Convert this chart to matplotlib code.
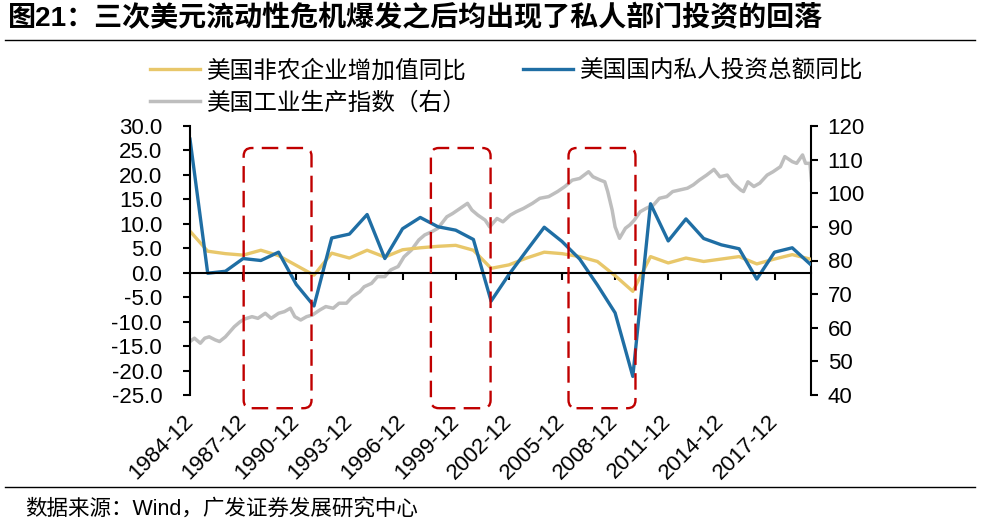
import matplotlib
matplotlib.use('Agg')
import matplotlib.pyplot as plt
from matplotlib.patches import FancyBboxPatch
from matplotlib.lines import Line2D

plt.rcParams['font.family'] = ['Liberation Sans', 'Noto Sans CJK SC', 'DejaVu Sans']
plt.rcParams['axes.unicode_minus'] = False

# 연간 데이터 (1984-12 ~ 2019-12)
years = list(range(1984, 2020))
value_added = [8.5, 4.4, 3.9, 3.6, 4.6, 3.5, 1.5, -0.5, 4.0, 3.0,
               4.6, 3.2, 4.7, 5.1, 5.4, 5.6, 4.6, 0.9, 1.6, 3.0,
               4.2, 3.9, 3.3, 2.3, -0.6, -3.8, 3.3, 2.0, 3.0, 2.3,
               2.8, 3.3, 1.8, 2.8, 3.7, 2.8]
investment = [27.3, -0.1, 0.3, 2.9, 2.5, 4.2, -2.4, -6.8, 7.1, 7.9,
              11.9, 2.9, 9.0, 11.3, 9.4, 8.7, 6.8, -5.8, -0.4, 4.5,
              9.3, 6.4, 2.8, -2.5, -8.2, -21.2, 14.1, 6.5, 11.0, 7.0,
              5.7, 4.9, -1.3, 4.2, 5.1, 1.8]

# 공업생산지수 (월별, 우측 축)
ip_months = ["1984-12", "1985-03", "1985-07", "1985-10", "1986-01", "1986-05", "1986-08", "1986-12",
             "1987-03", "1987-06", "1987-10", "1988-01", "1988-06", "1988-10", "1989-03", "1989-07",
             "1989-12", "1990-04", "1990-08", "1990-11", "1991-03", "1991-07", "1991-11", "1992-04",
             "1992-08", "1993-01", "1993-05", "1993-10", "1994-02", "1994-07", "1994-10", "1995-03",
             "1995-07", "1995-12", "1996-04", "1996-09", "1997-01", "1997-06", "1997-11", "1998-03",
             "1998-08", "1998-12", "1999-06", "1999-10", "2000-03", "2000-08", "2000-11", "2001-03",
             "2001-08", "2001-11", "2002-04", "2002-08", "2003-01", "2003-05", "2003-10", "2004-04",
             "2004-09", "2005-03", "2005-09", "2006-02", "2006-07", "2006-12", "2007-06", "2007-09",
             "2008-02", "2008-05", "2008-07", "2008-10", "2008-12", "2009-03", "2009-07", "2009-10",
             "2010-01", "2010-05", "2010-09", "2011-02", "2011-06", "2011-11", "2012-03", "2012-08",
             "2013-01", "2013-05", "2013-09", "2014-02", "2014-07", "2014-11", "2015-04", "2015-08",
             "2016-01", "2016-03", "2016-06", "2016-10", "2017-02", "2017-07", "2017-11", "2018-04",
             "2018-07", "2018-12", "2019-03", "2019-07", "2019-09", "2019-12", "2020-01"]
ip_index = [55.9, 56.9, 55.4, 56.9, 57.3, 56.4, 55.9, 57.3,
            58.8, 60.3, 61.8, 62.6, 63.3, 62.8, 64.3, 62.8,
            64.3, 64.8, 65.8, 63.3, 62.3, 63.3, 63.8, 65.3,
            66.3, 65.8, 67.3, 67.3, 69.2, 70.7, 72.2, 73.2,
            75.2, 75.2, 77.2, 78.2, 81.1, 83.1, 86.1, 87.6,
            88.6, 89.6, 93.0, 94.0, 95.5, 97.0, 95.0, 93.5,
            92.0, 90.0, 92.5, 91.5, 93.5, 94.5, 95.5, 97.0,
            98.5, 99.0, 100.5, 102.0, 103.9, 104.4, 106.4, 104.9,
            103.9, 103.4, 100.5, 95.0, 90.0, 86.6, 89.6, 90.6,
            92.0, 94.5, 95.5, 96.5, 98.5, 99.0, 100.5, 101.0,
            101.5, 102.5, 103.9, 105.4, 107.1, 104.9, 105.4, 103.0,
            101.0, 100.5, 103.4, 102.0, 103.0, 105.4, 106.4, 107.9,
            110.9, 109.4, 108.9, 111.4, 108.9, 108.9, 103.9]

# 세 번의 달러 유동성 위기 구간 (붉은 점선 상자)
crisis_spans = [(1987.03, 1990.86), (1997.6, 2000.97), (2005.37, 2009.15)]

tick_years = list(range(1984, 2018, 3))
tick_labels = [f"{y}-12" for y in tick_years]

labels = ['美国非农企业增加值同比', '美国国内私人投资总额同比', '美国工业生产指数（右）']
colors = ['#E8C76A', '#1F6EA4', '#BEBEBE']

# 월 문자열 -> 연도 좌표 (x=Y 는 Y년 12월)
ip_x = [int(s[:4]) + (int(s[5:]) - 12) / 12 for s in ip_months]

W, H = 985, 526
fig = plt.figure(figsize=(W / 100, H / 100), dpi=100)
ax_l, ax_r, ax_t, ax_b = 190, 811, 126, 395
ax = fig.add_axes([ax_l / W, 1 - ax_b / H, (ax_r - ax_l) / W, (ax_b - ax_t) / H])
ax2 = ax.twinx()
ax.set_zorder(ax2.get_zorder() + 1)
ax.patch.set_visible(False)

xmin, xmax = 1984.0, 2019.06
ymin, ymax = -25, 30

ln_ip, = ax2.plot(ip_x, ip_index, color=colors[2], lw=2.5)
ln_va, = ax.plot(years, value_added, color=colors[0], lw=2.4)
ln_inv, = ax.plot(years, investment, color=colors[1], lw=2.4)

# 스파인 위치를 먼저 바꾼다 (set_position 이 눈금을 초기화하므로)
for a in (ax, ax2):
    a.spines['top'].set_visible(False)
    for s in a.spines.values():
        s.set_linewidth(1.5)
ax.spines['right'].set_visible(False)
ax2.spines['left'].set_visible(False)
ax2.spines['bottom'].set_visible(False)
ax.spines['bottom'].set_position(('data', 0))

ax.set_xlim(xmin, xmax)
ax.set_ylim(ymin, ymax)
ax2.set_ylim(40, 120)
ax.set_yticks(range(-25, 31, 5))
ax.set_yticklabels([f"{v:.1f}" for v in range(-25, 31, 5)])
ax2.set_yticks(range(40, 121, 10))

ax.tick_params(axis='y', length=5, width=1.5, pad=15, labelsize=16)
ax.tick_params(axis='x', length=5, width=1.5, pad=100, labelsize=16)
ax2.tick_params(axis='y', length=5, width=1.5, pad=7, labelsize=16)

ax.set_xticks(tick_years)
ax.set_xticklabels(tick_labels)
for lab in ax.get_xticklabels():
    lab.set_rotation(45)
    lab.set_ha('right')
    lab.set_va('center')
    lab.set_rotation_mode('anchor')

# 둥근 모서리 점선 상자
xpp = (xmax - xmin) / (ax_r - ax_l)
ypp = (ymax - ymin) / (ax_b - ax_t)
box_top, box_bottom = 25.5, -27.7
for x0, x1 in crisis_spans:
    box = FancyBboxPatch((x0, box_bottom), x1 - x0, box_top - box_bottom,
                         boxstyle=f"round,pad=0,rounding_size={8 * xpp}",
                         mutation_aspect=ypp / xpp, fill=False, edgecolor='#C00000',
                         lw=1.7, linestyle=(0, (7, 3.5)), clip_on=False, zorder=5)
    ax.add_patch(box)

fig.legend([ln_va, ln_ip, ln_inv], [labels[0], labels[2], labels[1]], ncol=2,
           loc='upper left', bbox_to_anchor=(150 / W, 1 - 60 / H), frameon=False,
           fontsize=17, handlelength=2.1, handletextpad=0.3, columnspacing=2.4,
           labelspacing=0.4, borderpad=0, borderaxespad=0)

fig.text(8 / W, 1 - 18 / H, '图21：三次美元流动性危机爆发之后均出现了私人部门投资的回落',
         fontsize=20.2, fontweight='bold', va='center', ha='left')
fig.add_artist(Line2D([5 / W, 975 / W], [1 - 40 / H] * 2, color='black', lw=1))
fig.add_artist(Line2D([5 / W, 975 / W], [1 - 487 / H] * 2, color='black', lw=1))
fig.text(25 / W, 1 - 509 / H, '数据来源：Wind，广发证券发展研究中心', fontsize=15.5, va='center', ha='left')

fig.savefig('out.png', dpi=100)
